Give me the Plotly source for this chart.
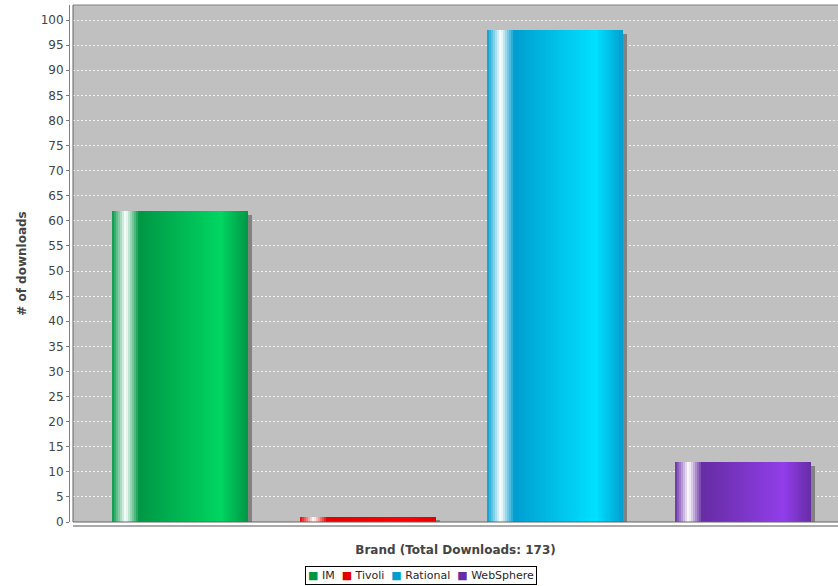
import plotly.graph_objects as go

# ---- data ----
brands = ["IM", "Tivoli", "Rational", "WebSphere"]
downloads = [62, 1, 98, 12]
base_colors = [(0, 150, 68), (228, 0, 0), (0, 158, 208), (102, 44, 164)]
y_ticks = list(range(0, 101, 5))
x_title = "Brand (Total Downloads: 173)"
y_title = "# of downloads"

W, H = 838, 586
ML, MR, MT, MB = 69, 0, 5, 60
OFF = 4  # axis offset px
x_range = [-0.57, 3.506]
y_range = [0, 103]
PW = W - ML - MR
PH = H - MT - MB
px_per_x = (PW - OFF) / (x_range[1] - x_range[0])
px_per_y = (PH - OFF) / (y_range[1] - y_range[0])
bar_w = 136 / px_per_x
N = 68


def brighter(c):
    return tuple(min(255, int(v / 0.7)) for v in c)


def mix(a, b, t):
    return tuple(int(round(a[i] + (b[i] - a[i]) * t)) for i in range(3))


def grad(c0, f):
    c1 = brighter(c0)
    white = (255, 255, 255)
    if f < 0.10:
        return mix(c0, white, f / 0.10)
    if f < 0.20:
        return mix(white, c0, (f - 0.10) / 0.10)
    if f < 0.80:
        return mix(c0, c1, (f - 0.20) / 0.60)
    return mix(c1, c0, (f - 0.80) / 0.20)


def rgb(c):
    return "rgb(%d,%d,%d)" % c


fig = go.Figure()
xs = list(range(len(brands)))

# shadows
fig.add_trace(go.Bar(
    x=xs, y=[v - OFF / px_per_y for v in downloads],
    width=bar_w, offset=-bar_w / 2 + OFF / px_per_x,
    marker=dict(color="rgb(130,130,130)", line=dict(width=0)),
    showlegend=False, hoverinfo="skip"))

# gradient slices (each overlaps the next so no seams appear)
sw = bar_w / N
for k in range(N):
    f = (k + 0.5) / N
    wk = sw * 2 if k < N - 1 else sw
    fig.add_trace(go.Bar(
        x=xs, y=downloads, width=wk, offset=-bar_w / 2 + k * sw,
        marker=dict(color=[rgb(grad(c, f)) for c in base_colors], line=dict(width=0)),
        showlegend=False, hoverinfo="skip"))

# legend (compact, like the original)
legend_text = "&nbsp;&nbsp;".join(
    "<span style='color:%s'>■</span> %s" % (rgb(c), b) for b, c in zip(brands, base_colors))

fig.update_layout(
    width=W, height=H,
    margin=dict(l=ML, r=MR, t=MT, b=MB, pad=0, autoexpand=False),
    paper_bgcolor="white", plot_bgcolor="rgb(192,192,192)",
    barmode="overlay", bargap=0, showlegend=False,
    font=dict(family="DejaVu Sans", size=12, color="rgb(68,68,68)"),
    xaxis=dict(domain=[OFF / PW, 1], range=x_range,
               showticklabels=False, ticks="", showgrid=False, zeroline=False,
               anchor="free", position=0, showline=True,
               linecolor="rgb(170,170,170)", linewidth=2,
               title=dict(text="<b>" + x_title + "</b>", standoff=19,
                          font=dict(size=12, color="rgb(68,68,68)"))),
    yaxis=dict(domain=[OFF / PH, 1], range=y_range,
               tickvals=y_ticks, ticks="outside", ticklen=3,
               tickcolor="rgb(120,120,120)",
               showgrid=True, gridcolor="rgba(255,255,255,0.8)", gridwidth=1,
               griddash="2px,2px", zeroline=False,
               anchor="free", position=0, showline=True,
               linecolor="rgb(130,130,130)", linewidth=1,
               tickfont=dict(size=12, color="rgb(68,68,68)"),
               title=dict(text="<b>" + y_title + "</b>", standoff=10,
                          font=dict(size=12, color="rgb(68,68,68)"))),
    annotations=[dict(
        text=legend_text, xref="paper", yref="paper",
        x=(421 - ML) / PW, xanchor="center",
        y=-(566 - (H - MB)) / PH, yanchor="top",
        showarrow=False, bordercolor="black", borderwidth=1, borderpad=2,
        bgcolor="white", font=dict(size=11, color="rgb(40,40,40)"))],
    shapes=[
        dict(type="line", xref="paper", yref="paper",
             x0=OFF / PW, x1=1, y0=1, y1=1,
             line=dict(color="rgb(130,130,130)", width=1)),
        dict(type="line", xref="paper", yref="paper",
             x0=OFF / PW, x1=1, y0=OFF / PH, y1=OFF / PH,
             line=dict(color="rgb(100,100,100)", width=1)),
        dict(type="line", xref="paper", yref="paper",
             x0=OFF / PW, x1=OFF / PW, y0=OFF / PH, y1=1,
             line=dict(color="rgb(100,100,100)", width=1)),
    ],
)

fig.write_html("out.html")
